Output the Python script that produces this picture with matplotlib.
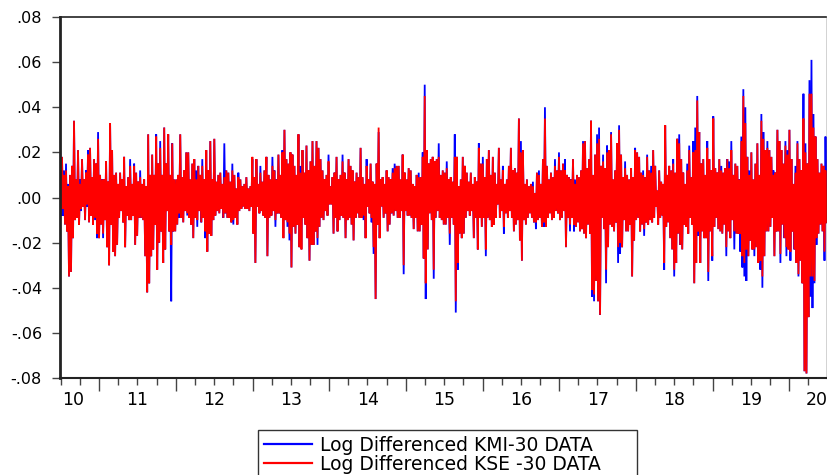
import numpy as np
import pandas as pd
import matplotlib
matplotlib.use("Agg")
import matplotlib.pyplot as plt
import matplotlib.dates as mdates
import matplotlib.transforms as mtransforms
from matplotlib.ticker import FuncFormatter, MultipleLocator
from matplotlib.lines import Line2D

# ---------------- data (daily log differences) ----------------
start_date = "2010-06-28"
end_date = "2020-06-26"

kse_30 = [
    # 2010 H2 - 2011
    .025,-.007, .018,-.005, .010,-.012, .012,-.015, .005,-.035, .010,-.033, .014,-.018, .034,-.010,
    .008,-.009, .021,-.012, .006,-.005, .017,-.004, .008,-.010, .011,-.003, .019,-.011, .022,-.008,
    .009,-.012, .017,-.009, .015,-.016, .026,-.018, .010,-.012, .008,-.016, .008,-.010, .016,-.022,
    .007,-.030, .033,-.012, .021,-.024, .010,-.026, .011,-.021, .006,-.009, .011,-.006, .008,-.011,
    .018,-.022, .005,-.008, .009,-.010, .014,-.010, .006,-.008, .014,-.021, .011,-.017, .007,-.009,
    .009,-.009, .006,-.010, .008,-.026, .005,-.042, .028,-.038, .010,-.026, .019,-.023, .010,-.012,
    .027,-.032, .015,-.020, .022,-.015, .010,-.029, .031,-.023, .015,-.006, .028,-.015, .010,-.021,
    .024,-.015, .008,-.015, .008,-.012, .010,-.007, .028,-.009, .009,-.011, .012,-.006, .020,-.007,
    # 2012 - 2013
    .020,-.009, .008,-.012, .015,-.018, .017,-.009, .008,-.010, .014,-.006, .010,-.011, .014,-.009,
    .008,-.015, .021,-.024, .012,-.016, .025,-.017, .008,-.010, .026,-.008, .007,-.006, .010,-.007,
    .011,-.005, .006,-.009, .009,-.007, .012,-.009, .011,-.009, .007,-.011, .012,-.010, .010,-.009,
    .004,-.012, .009,-.006, .008,-.005, .005,-.004, .006,-.005, .009,-.005, .004,-.006, .005,-.004,
    .018,-.016, .009,-.029, .017,-.004, .006,-.007, .011,-.006, .007,-.008, .012,-.009, .018,-.026,
    .010,-.009, .008,-.008, .014,-.006, .012,-.010, .008,-.007, .019,-.007, .010,-.009, .020,-.018,
    .030,-.010, .017,-.011, .015,-.016, .020,-.031, .019,-.013, .014,-.016, .010,-.012, .028,-.022,
    .011,-.023, .021,-.009, .011,-.012, .023,-.018, .012,-.028, .016,-.021, .025,-.021, .014,-.015,
    # 2014 - 2015
    .025,-.018, .022,-.013, .017,-.009, .012,-.010, .008,-.006, .010,-.008, .016,-.003, .005,-.003,
    .009,-.016, .011,-.009, .018,-.015, .008,-.010, .010,-.008, .016,-.009, .011,-.018, .008,-.010,
    .017,-.009, .014,-.012, .012,-.019, .007,-.009, .011,-.007, .009,-.009, .022,-.009, .009,-.008,
    .006,-.018, .014,-.004, .008,-.007, .015,-.009, .007,-.022, .006,-.045, .015,-.012, .031,-.018,
    .008,-.004, .009,-.009, .006,-.007, .012,-.015, .009,-.012, .008,-.007, .011,-.008, .013,-.006,
    .014,-.009, .014,-.009, .008,-.006, .019,-.030, .011,-.006, .008,-.008, .013,-.008, .012,-.009,
    .006,-.014, .005,-.009, .010,-.015, .009,-.015, .009,-.012, .018,-.027, .045,-.038, .021,-.023,
    .015,-.007, .017,-.010, .018,-.032, .016,-.009, .017,-.006, .018,-.009, .010,-.010, .012,-.012,
    # 2015 - 2016
    .011,-.012, .013,-.009, .008,-.016, .009,-.009, .007,-.012, .018,-.046, .018,-.029, .005,-.016,
    .008,-.018, .018,-.016, .014,-.009, .011,-.006, .007,-.008, .011,-.006, .006,-.018, .009,-.009,
    .007,-.023, .022,-.009, .015,-.013, .015,-.009, .009,-.023, .017,-.009, .021,-.010, .010,-.013,
    .018,-.012, .011,-.009, .006,-.003, .022,-.009, .008,-.006, .012,-.013, .006,-.007, .008,-.009,
    .014,-.006, .022,-.009, .012,-.015, .013,-.012, .011,-.010, .035,-.019, .020,-.028, .021,-.010,
    .006,-.012, .008,-.009, .005,-.007, .006,-.009, .005,-.011, .002,-.011, .011,-.010, .010,-.009,
    .006,-.013, .017,-.011, .035,-.013, .014,-.009, .008,-.007, .011,-.010, .009,-.009, .014,-.006,
    .012,-.007, .018,-.010, .012,-.009, .015,-.006, .012,-.022, .010,-.009, .009,-.012, .008,-.009,
    # 2017 - 2018
    .017,-.012, .006,-.013, .010,-.011, .009,-.015, .012,-.014, .024,-.016, .025,-.018, .013,-.012,
    .017,-.016, .034,-.041, .010,-.043, .019,-.037, .024,-.046, .026,-.052, .014,-.009, .016,-.014,
    .013,-.032, .020,-.022, .021,-.012, .028,-.013, .008,-.015, .012,-.011, .024,-.022, .030,-.020,
    .019,-.022, .009,-.010, .013,-.015, .010,-.015, .008,-.012, .013,-.035, .009,-.019, .021,-.010,
    .020,-.009, .018,-.015, .011,-.012, .010,-.014, .009,-.011, .018,-.012, .012,-.010, .011,-.011,
    .021,-.009, .014,-.004, .003,-.012, .012,-.009, .007,-.008, .006,-.029, .032,-.013, .010,-.011,
    .014,-.018, .012,-.023, .015,-.032, .011,-.029, .026,-.016, .024,-.021, .017,-.023, .011,-.012,
    .006,-.013, .012,-.016, .021,-.009, .009,-.012, .020,-.038, .021,-.029, .043,-.015, .029,-.029,
    # 2018 - 2020
    .015,-.015, .017,-.018, .010,-.018, .022,-.033, .017,-.015, .012,-.026, .035,-.013, .013,-.009,
    .011,-.014, .017,-.015, .012,-.016, .011,-.012, .013,-.022, .017,-.015, .013,-.018, .021,-.010,
    .010,-.015, .015,-.016, .014,-.016, .008,-.016, .025,-.026, .045,-.029, .033,-.023, .018,-.026,
    .010,-.019, .020,-.023, .008,-.023, .015,-.022, .024,-.029, .010,-.028, .034,-.035, .026,-.026,
    .021,-.015, .022,-.015, .021,-.013, .018,-.009, .010,-.026, .011,-.015, .030,-.015, .025,-.025,
    .021,-.012, .015,-.018, .023,-.022, .019,-.023, .030,-.024, .017,-.015, .006,-.023, .011,-.029,
    .024,-.034, .017,-.028, .012,-.038, .035,-.077, .020,-.078, .015,-.053, .046,-.035, .046,-.035,
    .031,-.037, .027,-.018, .017,-.016, .011,-.012, .015,-.015, .014,-.024, .012,-.011,
]

kmi_30 = [
    # 2010 H2 - 2011
    .025,-.008, .018,-.008, .012,-.012, .015,-.015, .006,-.035, .010,-.033, .014,-.018, .034,-.010,
    .008,-.009, .021,-.012, .008,-.006, .017,-.004, .008,-.010, .012,-.004, .021,-.011, .022,-.008,
    .009,-.012, .017,-.010, .015,-.018, .029,-.018, .010,-.012, .008,-.018, .008,-.010, .016,-.022,
    .007,-.030, .033,-.012, .021,-.024, .010,-.026, .011,-.021, .006,-.009, .011,-.006, .008,-.011,
    .018,-.022, .005,-.008, .009,-.010, .017,-.010, .006,-.008, .015,-.021, .011,-.017, .007,-.009,
    .012,-.009, .006,-.010, .008,-.026, .005,-.042, .028,-.038, .010,-.026, .019,-.023, .010,-.012,
    .028,-.032, .015,-.020, .025,-.015, .010,-.029, .031,-.023, .015,-.006, .028,-.015, .010,-.046,
    .024,-.015, .008,-.015, .008,-.012, .010,-.009, .028,-.009, .009,-.011, .012,-.006, .020,-.008,
    # 2012 - 2013
    .020,-.009, .008,-.012, .015,-.018, .017,-.009, .012,-.013, .014,-.006, .010,-.011, .017,-.009,
    .008,-.018, .021,-.024, .012,-.016, .025,-.017, .008,-.010, .026,-.008, .007,-.006, .010,-.007,
    .011,-.005, .006,-.009, .024,-.007, .012,-.009, .011,-.009, .007,-.011, .015,-.012, .010,-.009,
    .004,-.012, .011,-.006, .008,-.005, .005,-.004, .006,-.005, .009,-.005, .004,-.006, .005,-.004,
    .017,-.016, .009,-.029, .017,-.004, .006,-.007, .014,-.006, .007,-.008, .012,-.009, .018,-.026,
    .010,-.009, .008,-.008, .018,-.006, .012,-.013, .008,-.007, .019,-.007, .010,-.009, .021,-.018,
    .030,-.010, .017,-.013, .015,-.019, .020,-.031, .019,-.013, .014,-.016, .010,-.012, .028,-.022,
    .014,-.023, .021,-.009, .011,-.012, .023,-.018, .012,-.028, .016,-.021, .025,-.021, .014,-.015,
    # 2014 - 2015
    .025,-.021, .022,-.013, .017,-.009, .012,-.010, .008,-.006, .010,-.008, .019,-.003, .005,-.003,
    .009,-.016, .011,-.009, .018,-.015, .008,-.010, .010,-.008, .019,-.009, .011,-.018, .008,-.010,
    .017,-.009, .014,-.012, .012,-.019, .007,-.009, .011,-.007, .009,-.009, .022,-.009, .009,-.010,
    .006,-.018, .017,-.004, .008,-.007, .015,-.011, .007,-.025, .006,-.045, .015,-.012, .029,-.018,
    .008,-.004, .009,-.009, .006,-.007, .012,-.015, .009,-.012, .008,-.007, .013,-.008, .015,-.006,
    .014,-.009, .014,-.009, .008,-.006, .019,-.034, .011,-.006, .008,-.008, .013,-.008, .012,-.009,
    .006,-.014, .005,-.009, .010,-.015, .011,-.015, .009,-.012, .020,-.027, .050,-.045, .021,-.023,
    .015,-.007, .017,-.010, .018,-.036, .016,-.009, .017,-.006, .024,-.009, .010,-.010, .012,-.012,
    # 2015 - 2016
    .011,-.012, .016,-.009, .008,-.021, .009,-.009, .007,-.012, .028,-.051, .018,-.032, .005,-.016,
    .008,-.018, .018,-.016, .014,-.009, .011,-.006, .007,-.008, .011,-.006, .006,-.018, .009,-.009,
    .007,-.023, .024,-.009, .015,-.013, .018,-.009, .009,-.026, .017,-.009, .021,-.010, .010,-.013,
    .018,-.012, .011,-.009, .006,-.003, .022,-.009, .008,-.006, .014,-.016, .006,-.007, .008,-.009,
    .014,-.006, .022,-.009, .012,-.015, .013,-.012, .011,-.010, .035,-.019, .025,-.028, .021,-.010,
    .006,-.012, .008,-.009, .005,-.007, .006,-.009, .007,-.011, .002,-.014, .011,-.010, .012,-.009,
    .006,-.013, .017,-.013, .040,-.013, .014,-.009, .008,-.007, .011,-.010, .009,-.009, .017,-.006,
    .012,-.007, .020,-.010, .012,-.009, .015,-.006, .017,-.022, .010,-.009, .009,-.015, .008,-.009,
    # 2017 - 2018
    .017,-.015, .008,-.013, .010,-.011, .009,-.015, .012,-.014, .025,-.016, .025,-.018, .013,-.012,
    .017,-.016, .034,-.044, .010,-.046, .019,-.037, .028,-.046, .031,-.052, .014,-.009, .019,-.014,
    .013,-.038, .023,-.022, .021,-.012, .029,-.013, .008,-.015, .012,-.011, .024,-.029, .032,-.025,
    .019,-.022, .009,-.010, .016,-.015, .010,-.015, .008,-.012, .013,-.035, .009,-.019, .022,-.010,
    .020,-.009, .018,-.015, .011,-.012, .012,-.017, .009,-.011, .019,-.012, .012,-.010, .014,-.011,
    .021,-.009, .014,-.004, .003,-.012, .012,-.009, .007,-.008, .006,-.032, .032,-.013, .010,-.011,
    .014,-.018, .012,-.023, .017,-.035, .011,-.029, .026,-.016, .028,-.021, .017,-.023, .011,-.012,
    .006,-.013, .015,-.016, .023,-.009, .009,-.012, .025,-.038, .031,-.029, .045,-.017, .029,-.029,
    # 2018 - 2020
    .015,-.015, .017,-.018, .010,-.018, .025,-.037, .017,-.015, .012,-.028, .036,-.013, .013,-.009,
    .011,-.014, .017,-.015, .014,-.016, .011,-.012, .013,-.026, .017,-.015, .016,-.018, .025,-.010,
    .010,-.023, .015,-.016, .014,-.016, .008,-.024, .027,-.031, .048,-.035, .040,-.037, .018,-.026,
    .012,-.019, .020,-.023, .008,-.026, .015,-.022, .024,-.029, .010,-.032, .037,-.040, .029,-.026,
    .021,-.015, .025,-.015, .021,-.013, .018,-.009, .012,-.026, .011,-.015, .030,-.015, .025,-.029,
    .021,-.012, .015,-.018, .025,-.026, .021,-.023, .030,-.028, .017,-.015, .006,-.023, .014,-.029,
    .025,-.035, .017,-.028, .012,-.038, .046,-.077, .024,-.078, .015,-.053, .052,-.044, .061,-.049,
    .037,-.038, .027,-.021, .017,-.016, .011,-.012, .015,-.015, .014,-.028, .027,-.011,
]

year_labels = ["10", "11", "12", "13", "14", "15", "16", "17", "18", "19", "20"]
year_label_dates = ["2010-08-29", "2011-07-02", "2012-07-01", "2013-07-02", "2014-07-02",
                    "2015-07-02", "2016-07-01", "2017-07-02", "2018-07-02", "2019-07-02", "2020-05-12"]
legend_labels = ["Log Differenced KMI-30 DATA", "Log Differenced KSE -30 DATA"]

# ---------------- figure ----------------
W, H = 827, 475
fig = plt.figure(figsize=(W / 100, H / 100), dpi=100)
ax = fig.add_axes([60 / W, 97 / H, 766.5 / W, 361 / H])

dates = pd.date_range(start_date, end_date, periods=len(kse_30))
ax.plot(dates, kmi_30, color="#0000ff", lw=1.3, solid_joinstyle="miter")
ax.plot(dates, kse_30, color="#ff0000", lw=1.3, solid_joinstyle="miter")

ax.set_xlim(pd.Timestamp(start_date), pd.Timestamp(end_date))
ax.set_ylim(-0.08, 0.08)

# y axis
ax.yaxis.set_major_locator(MultipleLocator(0.02))
def yfmt(v, pos):
    s = f"{v:.2f}"
    if s == "-0.00":
        s = "0.00"
    return s.replace("0.", ".", 1)
ax.yaxis.set_major_formatter(FuncFormatter(yfmt))
ax.tick_params(axis="y", direction="out", length=6, width=1, color="#444444",
               pad=7, labelsize=11.5, labelcolor="black")

# x axis: year ticks long, quarter ticks short, labels centred in year
ax.xaxis.set_major_locator(mdates.YearLocator())
ax.xaxis.set_minor_locator(mdates.MonthLocator(bymonth=[4, 7, 10]))
ax.xaxis.set_major_formatter(plt.NullFormatter())
ax.tick_params(axis="x", which="major", direction="out", length=9, width=1, color="#444444")
ax.tick_params(axis="x", which="minor", direction="out", length=5, width=1, color="#444444")

trans = mtransforms.blended_transform_factory(ax.transData, ax.transAxes) + \
    mtransforms.ScaledTranslation(0, -13 / 100, fig.dpi_scale_trans)
for lab, d in zip(year_labels, year_label_dates):
    ax.text(mdates.date2num(pd.Timestamp(d)), 0, lab, transform=trans,
            ha="center", va="top", fontsize=12.5, clip_on=False)

for side in ["left", "bottom", "top", "right"]:
    ax.spines[side].set_color("#222222")
ax.spines["left"].set_linewidth(2.0)
ax.spines["bottom"].set_linewidth(1.5)
ax.spines["top"].set_linewidth(1.2)
ax.spines["right"].set_linewidth(1.0)

# legend
handles = [Line2D([], [], color="#0000ff", lw=1.6), Line2D([], [], color="#ff0000", lw=1.6)]
leg = fig.legend(handles, legend_labels, loc="upper left",
                 bbox_to_anchor=(258 / W, 0, 379 / W, 45 / H), bbox_transform=fig.transFigure,
                 mode="expand", borderaxespad=0, frameon=True, fancybox=False, shadow=False,
                 fontsize=13.5, handlelength=2.6, handletextpad=0.4, borderpad=0.3,
                 labelspacing=0.0)
leg.get_frame().set_edgecolor("black")
leg.get_frame().set_linewidth(1.0)

fig.savefig("out.png", dpi=100)
